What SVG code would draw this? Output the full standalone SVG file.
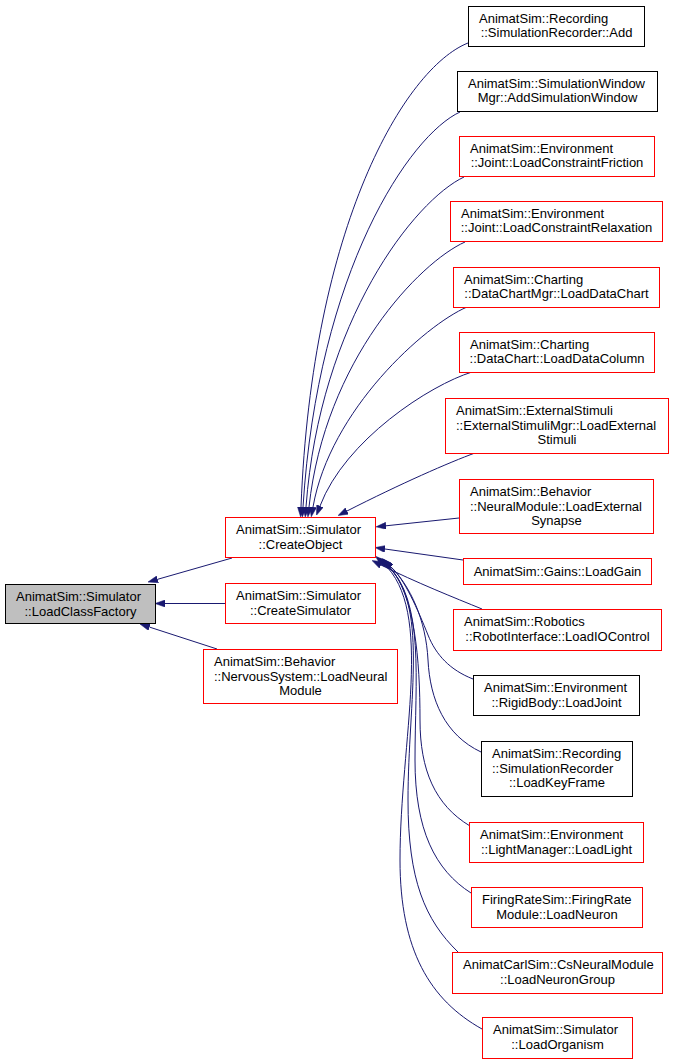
<svg xmlns="http://www.w3.org/2000/svg" width="673" height="1064" viewBox="0 0 673 1064">
<style>
rect{stroke-width:1}
.r{fill:#fff;stroke:#ff0000}
.b{fill:#fff;stroke:#000}
.g{fill:#bfbfbf;stroke:#000}
text{font-family:"Liberation Sans",Arial,sans-serif;font-size:13px;fill:#000}
.c{text-anchor:middle}
.e path{fill:none;stroke:#191970;stroke-width:1;marker-end:url(#ah)}
</style>
<defs>
<marker id="ah" viewBox="0 0 10 7" refX="0" refY="3.5" markerWidth="10" markerHeight="7" markerUnits="userSpaceOnUse" orient="auto">
<path d="M0,0 L10,3.5 L0,7 z" fill="#191970" stroke="#191970" stroke-width="0.5"/>
</marker>
</defs>
<rect width="673" height="1064" fill="#fff"/>
<g id="edges" class="e">
<path d="M232,558 L157.6,579.3"/>
<path d="M225,603.5 L165,603.5"/>
<path d="M217,649 L149.5,627.1"/>
<path d="M468,43 C 405,68 312,225 301,507"/>
<path d="M460,112 C 410,135 318,270 303,507"/>
<path d="M464,177 C 415,200 320,320 306,507"/>
<path d="M465,242 C 420,262 325,360 309,507"/>
<path d="M467,307 C 425,325 330,410 313,507"/>
<path d="M472,372 C 430,385 345,440 320,506"/>
<path d="M475,453 C 450,462 400,484 347,511"/>
<path d="M459,518 L386,525.8"/>
<path d="M463,560 L385,549"/>
<path d="M482,609 C 455,598 415,582 381,565"/>
<path d="M473,679 C 450,670 436,655 428,635 C 418,610 404,578 391,567"/>
<path d="M481,752 C 445,735 430,700 428,660 C 426,620 410,585 390,566"/>
<path d="M470,826 C 435,805 420,770 420,720 C 420,660 415,595 389,566"/>
<path d="M471,893 C 435,870 415,830 415,760 C 415,680 425,600 387,565"/>
<path d="M458,952 C 425,920 408,880 408,800 C 408,700 430,600 385,564"/>
<path d="M482,1029 C 430,1000 400,950 400,860 C 400,740 435,610 383,563"/>
</g>
<g id="n_lcf"><rect class="g" x="5.5" y="584.5" width="150" height="39"/><text x="16" y="601">AnimatSim::Simulator</text><text class="c" x="80.5" y="615.5">::LoadClassFactory</text></g>
<g id="n_createobject"><rect class="r" x="225.5" y="517.5" width="150" height="40"/><text x="236" y="534">AnimatSim::Simulator</text><text class="c" x="300.5" y="549">::CreateObject</text></g>
<g id="n_createsimulator"><rect class="r" x="225.5" y="583.5" width="150" height="40"/><text x="236" y="600">AnimatSim::Simulator</text><text class="c" x="300.5" y="615">::CreateSimulator</text></g>
<g id="n_loadneuralmodule"><rect class="r" x="203.5" y="649.5" width="194" height="54"/><text x="214" y="666">AnimatSim::Behavior</text><text x="214" y="680.5">::NervousSystem::LoadNeural</text><text class="c" x="300.5" y="695">Module</text></g>
<g id="n_add"><rect class="b" x="468.5" y="6.5" width="176" height="40"/><text x="479" y="22.5">AnimatSim::Recording</text><text class="c" x="556.5" y="37">::SimulationRecorder::Add</text></g>
<g id="n_addsimwin"><rect class="b" x="457.5" y="71.5" width="200" height="40"/><text x="468" y="87.5">AnimatSim::SimulationWindow</text><text class="c" x="557.5" y="102">Mgr::AddSimulationWindow</text></g>
<g id="n_friction"><rect class="r" x="459.5" y="136.5" width="195" height="40"/><text x="470" y="152.5">AnimatSim::Environment</text><text class="c" x="557" y="167">::Joint::LoadConstraintFriction</text></g>
<g id="n_relaxation"><rect class="r" x="450.5" y="201.5" width="212" height="40"/><text x="461" y="217.5">AnimatSim::Environment</text><text class="c" x="556.5" y="232">::Joint::LoadConstraintRelaxation</text></g>
<g id="n_datachart"><rect class="r" x="453.5" y="267.5" width="206" height="40"/><text x="464" y="283.5">AnimatSim::Charting</text><text class="c" x="556.5" y="298">::DataChartMgr::LoadDataChart</text></g>
<g id="n_datacolumn"><rect class="r" x="459.5" y="332.5" width="195" height="40"/><text x="470" y="348.5">AnimatSim::Charting</text><text class="c" x="557" y="363">::DataChart::LoadDataColumn</text></g>
<g id="n_extstimuli"><rect class="r" x="445.5" y="398.5" width="223" height="55"/><text x="456" y="415">AnimatSim::ExternalStimuli</text><text x="456" y="429.5">::ExternalStimuliMgr::LoadExternal</text><text class="c" x="557" y="444">Stimuli</text></g>
<g id="n_extsynapse"><rect class="r" x="459.5" y="479.5" width="194" height="54"/><text x="470" y="496">AnimatSim::Behavior</text><text x="470" y="510.5">::NeuralModule::LoadExternal</text><text class="c" x="556.5" y="525">Synapse</text></g>
<g id="n_gain"><rect class="r" x="463.5" y="558.5" width="188" height="26"/><text class="c" x="557.5" y="575.5">AnimatSim::Gains::LoadGain</text></g>
<g id="n_iocontrol"><rect class="r" x="453.5" y="609.5" width="208" height="41"/><text x="464" y="626">AnimatSim::Robotics</text><text class="c" x="557.5" y="640.5">::RobotInterface::LoadIOControl</text></g>
<g id="n_joint"><rect class="b" x="473.5" y="675.5" width="166" height="40"/><text x="484" y="692">AnimatSim::Environment</text><text class="c" x="556.5" y="706.5">::RigidBody::LoadJoint</text></g>
<g id="n_keyframe"><rect class="b" x="481.5" y="741.5" width="151" height="55"/><text x="492" y="758">AnimatSim::Recording</text><text x="492" y="772.5">::SimulationRecorder</text><text class="c" x="557" y="787">::LoadKeyFrame</text></g>
<g id="n_light"><rect class="r" x="469.5" y="822.5" width="174" height="40"/><text x="480" y="839">AnimatSim::Environment</text><text class="c" x="556.5" y="853.5">::LightManager::LoadLight</text></g>
<g id="n_neuron"><rect class="r" x="471.5" y="887.5" width="171" height="40"/><text x="482" y="904">FiringRateSim::FiringRate</text><text class="c" x="557" y="918.5">Module::LoadNeuron</text></g>
<g id="n_neurongroup"><rect class="r" x="452.5" y="952.5" width="210" height="41"/><text x="463" y="969">AnimatCarlSim::CsNeuralModule</text><text class="c" x="557.5" y="983.5">::LoadNeuronGroup</text></g>
<g id="n_organism"><rect class="r" x="482.5" y="1017.5" width="150" height="41"/><text x="493" y="1034">AnimatSim::Simulator</text><text class="c" x="557.5" y="1048.5">::LoadOrganism</text></g>
</svg>
